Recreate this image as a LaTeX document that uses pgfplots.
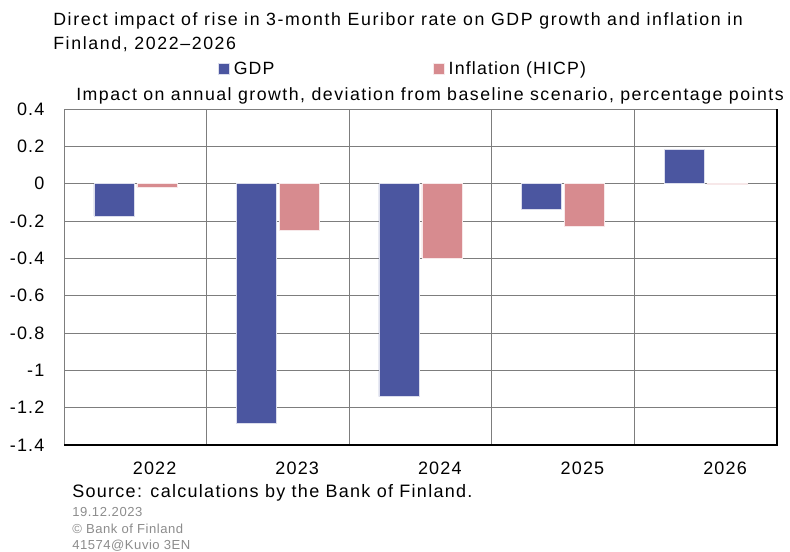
\documentclass[border=0pt]{standalone}
\usepackage{fontspec}
\setmainfont{Liberation Sans}
\newfontfamily\spf[LetterSpace=6.5]{Liberation Sans}
\newfontfamily\spt[LetterSpace=9.2]{Liberation Sans}
\newfontfamily\sps[LetterSpace=8.4]{Liberation Sans}
\newfontfamily\spr[LetterSpace=7.2]{Liberation Sans}
\newfontfamily\spg[LetterSpace=4]{Liberation Sans}
\usepackage{pgfplots}
\pgfplotsset{compat=1.18}
\definecolor{gdpc}{RGB}{75,86,160}
\definecolor{infc}{RGB}{215,139,143}
\definecolor{gridc}{RGB}{125,125,125}
\definecolor{grayt}{RGB}{140,140,140}
\begin{document}
\begin{tikzpicture}
\path[use as bounding box] (0,0) rectangle (592.5pt,413.25pt);
\begin{axis}[
  at={(48pt,79.5pt)}, anchor=south west,
  scale only axis, width=534.75pt, height=252pt,
  ybar=2.25pt, bar width=30pt,
  xmin=-0.5, xmax=4.5, ymin=-1.4, ymax=0.4,
  xtick={0,1,2,3,4}, xticklabels={2022,2023,2024,2025,2026},
  minor xtick={-0.5,0.5,1.5,2.5,3.5,4.5},
  ytick={-1.4,-1.2,-1,-0.8,-0.6,-0.4,-0.2,0,0.2,0.4},
  ymajorgrids, xminorgrids,
  grid style={gridc, line width=0.6pt},
  minor grid style={gridc, line width=0.6pt},
  axis line style={gridc, line width=0.6pt},
  major tick length=0pt, minor tick length=0pt,
  /pgf/number format/assume math mode=true,
  /pgf/number format/fixed,
  yticklabel style={anchor=east, inner sep=0pt, xshift=-14.5pt, font=\spf\fontsize{13.5}{16}\selectfont},
  xticklabel style={anchor=north, inner sep=0pt, yshift=-12.5pt, xshift=14.5pt, font=\spf\fontsize{13.5}{16}\selectfont},
  legend columns=2,
  legend style={at={(0.216,1.119)}, anchor=west, draw=none, fill=none, inner sep=0pt,
    font=\spf\fontsize{13.3}{16}\selectfont,
    /tikz/column 1/.style={column sep=3pt},
    /tikz/column 2/.style={column sep=119pt},
    /tikz/column 3/.style={column sep=3pt},
    nodes={inner sep=0pt}},
  legend image code/.code={\fill[#1] (0pt,-4.1pt) rectangle (8.25pt,4.1pt);},
  clip=false,
]
\addplot[fill=gdpc, draw=white!80!gdpc, line width=0.4pt] coordinates {(0,-0.173) (1,-1.284) (2,-1.141) (3,-0.138) (4,0.185)};
\addlegendentry{GDP}
\addplot[fill=infc, draw=white!80!infc, line width=0.4pt] coordinates {(0,-0.018) (1,-0.25) (2,-0.40) (3,-0.23) (4,-0.005)};
\addlegendentry{Inflation (HICP)}
\draw[black, line width=0.8pt] (rel axis cs:0,0) -- (rel axis cs:1,0) -- (rel axis cs:1,1);
\end{axis}
\node[anchor=base west, inner sep=0pt, font=\spt\fontsize{13.3}{16}\selectfont] at (39.75pt,393.75pt) {Direct impact of rise in 3-month Euribor rate on GDP growth and inflation in};
\node[anchor=base west, inner sep=0pt, font=\spt\fontsize{13.3}{16}\selectfont] at (39.75pt,375.75pt) {Finland, 2022–2026};
\node[anchor=base west, inner sep=0pt, font=\sps\fontsize{13.3}{16}\selectfont] at (57pt,337.5pt) {Impact on annual growth, deviation from baseline scenario, percentage points};
\node[anchor=base west, inner sep=0pt, font=\spr\fontsize{13.5}{16}\selectfont] at (54pt,40.5pt) {Source: calculations by the Bank of Finland.};
\node[anchor=base west, inner sep=0pt, text=grayt, font=\spg\fontsize{9.8}{12}\selectfont] at (54pt,26.25pt) {19.12.2023};
\node[anchor=base west, inner sep=0pt, text=grayt, font=\spg\fontsize{9.8}{12}\selectfont] at (54pt,13.5pt) {© Bank of Finland};
\node[anchor=base west, inner sep=0pt, text=grayt, font=\spg\fontsize{9.8}{12}\selectfont] at (54pt,1.5pt) {41574@Kuvio 3EN};
\end{tikzpicture}
\end{document}
